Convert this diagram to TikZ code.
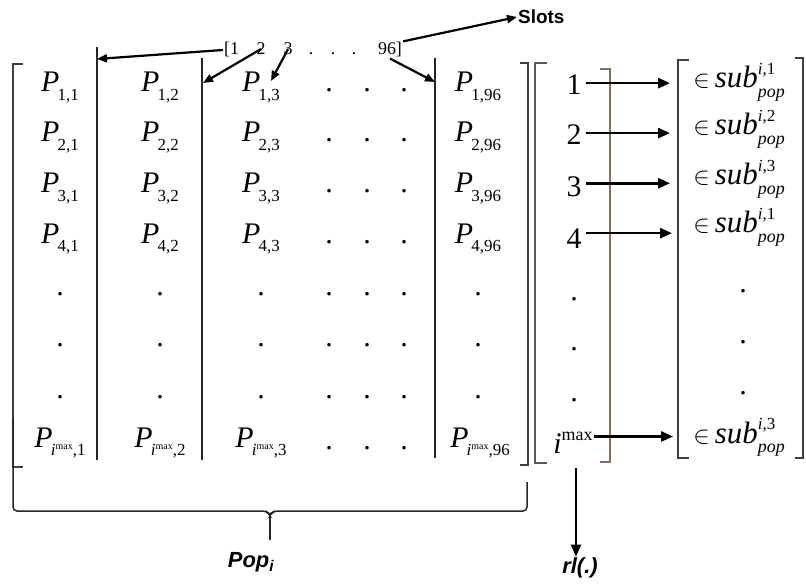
\documentclass[tikz,border=0pt]{standalone}
\usepackage{fontspec}
\setmainfont{Liberation Serif}
\setsansfont{Liberation Sans}
\usetikzlibrary{arrows.meta,calc}
\newcommand\Pe[1]{\textit{P}\kern-0.06em\raisebox{-0.3em}{\fontsize{17}{17}\selectfont #1}}
\newcommand\imxs{\textit{i}\raisebox{0.4em}{\fontsize{10}{10}\selectfont max}}
\newcommand\imx{\textit{i}\raisebox{0.42em}{\fontsize{18}{18}\selectfont max}}
\newcommand\Se[1]{{\fontsize{33}{33}\selectfont$\in$}\,\textit{sub}\rlap{\raisebox{0.45em}{\fontsize{17}{17}\selectfont\textit{i},#1}}\raisebox{-0.3em}{\fontsize{18}{18}\selectfont\textit{pop}}}
\definecolor{brn}{RGB}{140,105,90}
\begin{document}
\begin{tikzpicture}[x=1bp,y=-1bp,
  ent/.style={font=\fontsize{30}{30}\selectfont, inner sep=1pt, anchor=base},
  sent/.style={font=\fontsize{31}{31}\selectfont, inner sep=1pt, anchor=base},
  dotn/.style={font=\fontsize{30}{30}\selectfont, inner sep=0pt, anchor=base},
  smalltok/.style={font=\fontsize{18}{18}\selectfont, inner sep=1pt, anchor=base},
  brk/.style={draw=black!75, line width=1.3bp},
  sepl/.style={draw=black!85, line width=1.5bp},
  arr/.style={draw, line width=2.6bp, -{Triangle[length=12bp,width=10bp]}},
  arrs/.style={draw, line width=2.2bp, -{Triangle[length=10bp,width=8bp]}},
  lbl/.style={font=\fontsize{22}{22}\selectfont\sffamily\bfseries\itshape, inner sep=1pt},
]
\useasboundingbox[fill=white] (0,0) rectangle (806,585);

% main matrix entries
\foreach \r/\y in {1/92,2/142,3/193,4/243} {
  \node[ent] (p\r-1) at (60,\y) {\Pe{\r,1}};
  \node[ent] (p\r-2) at (160,\y) {\Pe{\r,2}};
  \node[ent] (p\r-3) at (261,\y) {\Pe{\r,3}};
  \node[ent] (p\r-96) at (478,\y) {\Pe{\r,96}};
  \foreach \x [count=\k] in {329,367,404} \node[dotn] (d\r-\k) at (\x,\y) {.};
}
\node[ent] (pm-1) at (60,447) {\Pe{\imxs,1}};
\node[ent] (pm-2) at (160,447) {\Pe{\imxs,2}};
\node[ent] (pm-3) at (261,447) {\Pe{\imxs,3}};
\node[ent] (pm-96) at (480,447) {\Pe{\imxs,96}};
\foreach \x [count=\k] in {329,367,404} \node[dotn] (dm-\k) at (\x,449) {.};
\foreach \y [count=\j] in {295,346,398}
  \foreach \x [count=\k] in {60,160,261,329,367,404,478}
    \node[dotn] (v\j-\k) at (\x,\y) {.};

% main matrix brackets and separators
\draw[brk] (23,64) -- (13,64) -- (13,467) -- (23,467);
\draw[brk] (520,63) -- (528,63) -- (528,465) -- (520,465);
\draw[sepl] (97,47) -- (97,460);
\draw[sepl] (202,58) -- (202,460);
\draw[sepl] (435,58) -- (435,458);
\coordinate (c1) at (97,59);
\coordinate (c2) at (203,83);
\coordinate (c3) at (271,81);
\coordinate (c4) at (435,82);

% rl matrix
\draw[brk, draw=black!65] (547,63) -- (535,63) -- (535,463) -- (547,463);
\draw[brk, draw=brn] (600,69) -- (610,69) -- (610,462) -- (600,462);
\node[ent] (r1) at (574,95) {1};
\node[ent] (r2) at (574,145) {2};
\node[ent] (r3) at (574,197) {3};
\node[ent] (r4) at (574,248) {4};
\foreach \y [count=\j] in {300,350,401} \node[dotn] (rd\j) at (574,\y) {.};
\node[ent] (rI) at (573,453) {\imx};

% sub matrix
\draw[brk] (689,60) -- (678,60) -- (678,458) -- (689,458);
\draw[brk] (795,58) -- (803,58) -- (803,458) -- (795,458);
\node[sent] (s1) at (739,88) {\Se{1}};
\node[sent] (s2) at (739,135) {\Se{2}};
\node[sent] (s3) at (739,185) {\Se{3}};
\node[sent] (s4) at (739,233) {\Se{1}};
\foreach \y [count=\j] in {292,343,394} \node[dotn] (sd\j) at (743,\y) {.};
\node[sent] (sI) at (739,443) {\Se{3}};

% rl arrows
\draw[arr, shorten <=3bp] ($(r1.east)+(0,-2)$) -- ($(r1.east -| s1.west)+(-22,-2)$);
\draw[arr, shorten <=3bp] ($(r2.east)+(0,-2)$) -- ($(r2.east -| s2.west)+(-22,-2)$);
\draw[arr, shorten <=3bp] ($(r3.east)+(0,-4)$) -- ($(r3.east -| s3.west)+(-22,-4)$);
\draw[arr, shorten <=3bp] ($(r4.east)+(0,-5)$) -- ($(r4.east -| s4.west)+(-20,-5)$);
\draw[arr] ($(rI.east)+(0,-6)$) -- ($(rI.east -| sI.west)+(-19,-6)$);

% top tokens
\node[smalltok, anchor=base west] (tL) at (223,55) {[1};
\node[smalltok] (t2) at (261,55) {2};
\node[smalltok] (t3) at (288,55) {3};
\foreach \x [count=\k] in {311,333,354} \node[smalltok] (td\k) at (\x,55) {.};
\node[smalltok] (t96) at (390,55) {96]};
\node[font=\fontsize{19}{19}\selectfont\sffamily\bfseries, inner sep=1pt, anchor=west] (slots) at (517,17) {Slots};

\draw[arrs] (tL.west) -- (c1);
\draw[arrs] (t2.center) -- (c2);
\draw[arrs] (t3.center) -- (c3);
\draw[arrs] (t96.south) -- (c4);
\draw[arrs] (t96.north east) -- (slots.west);

% brace under main matrix
\draw[sepl, rounded corners=4bp] (13,418) -- (13,511) -- (267,511) -- (270,516) -- (273,511) -- (527,511) -- (527,482);
\coordinate (btip) at (270,516);
\node[lbl] (pop) at (251,562) {Pop\textsubscript{i}};
\draw[sepl] (btip) -- (270,540);

% rl output
\coordinate (rlb) at (576,468);
\node[lbl] (rlo) at (580,568) {rl(.)};
\draw[arr] (rlb) -- (rlb |- rlo.north);
\end{tikzpicture}
\end{document}
